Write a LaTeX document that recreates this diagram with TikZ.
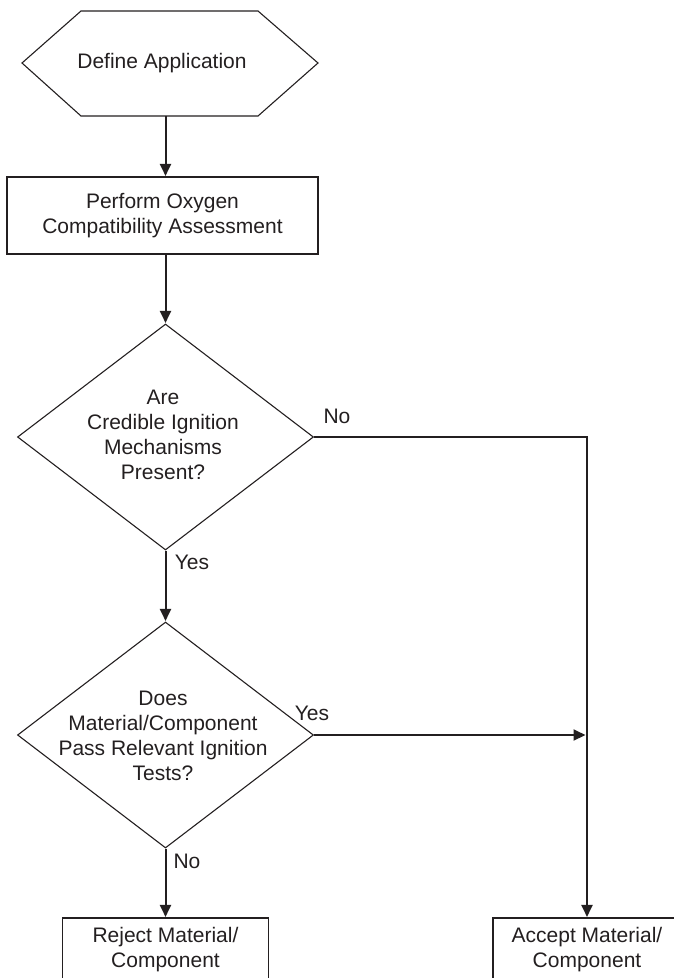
\documentclass[tikz,border=0pt]{standalone}
\usepackage{fontspec}
\setmainfont{Liberation Sans}
\usetikzlibrary{shapes.geometric,arrows.meta}
\definecolor{ink}{HTML}{231F20}
\begin{document}
\begin{tikzpicture}[x=1pt,y=-1pt,
  every node/.style={font=\fontsize{21}{25}\selectfont, text=ink},
  shapeline/.style={draw=ink, line width=1.1pt},
  box/.style={shapeline, rectangle, inner sep=0pt, align=center},
  dia/.style={shapeline, diamond, minimum width=296pt, minimum height=226pt, inner sep=0pt},
  txt/.style={align=center, inner sep=0pt},
  conn/.style={draw=ink, line width=2pt, shorten >=0.5pt, -{Triangle[length=12pt,width=11pt]}},
  lbl/.style={inner sep=0pt}]
\useasboundingbox (0,0) rectangle (674,978);
% start hexagon
\draw[shapeline] (22,63) -- (81,11) -- (258,11) -- (318,63) -- (258,116) -- (81,116) -- cycle;
\node[txt] (def) at (162,63) {Define Application};
\coordinate (defbot) at (165.5,116);
% assessment box
\node[box, minimum width=311pt, minimum height=77pt] (perf) at (162.5,215.5) {Perform Oxygen\\Compatibility Assessment};
% decision 1
\node[dia] (d1) at (165.5,437) {};
\node[txt] (t1) at (163,435) {Are\\Credible Ignition\\Mechanisms\\Present?};
% decision 2
\node[dia] (d2) at (165.5,735) {};
\node[txt] (t2) at (163,736) {Does\\Material/Component\\Pass Relevant Ignition\\Tests?};
% outcomes
\node[box, minimum width=206pt, minimum height=64pt] (rej) at (165.5,950) {Reject Material/\\Component};
\node[box, minimum width=188pt, minimum height=64pt] (acc) at (587,950) {Accept Material/\\Component};
% connectors
\draw[conn] (defbot) -- (defbot |- perf.north);
\draw[conn] (d1.north |- perf.south) -- (d1.north);
\draw[conn] (d1.south) -- (d2.north);
\draw[conn] (d2.south) -- (rej.north);
\draw[conn] (d1.east) -- (d1.east -| acc.north) -- (acc.north);
\draw[conn] (d2.east) -- ([xshift=-1pt]d2.east -| acc.north);
% labels
\node[lbl] (lno1) at (337,416) {No};
\node[lbl] (lyes1) at (192,562) {Yes};
\node[lbl] (lyes2) at (312,713) {Yes};
\node[lbl] (lno2) at (187,861) {No};
\end{tikzpicture}
\end{document}
